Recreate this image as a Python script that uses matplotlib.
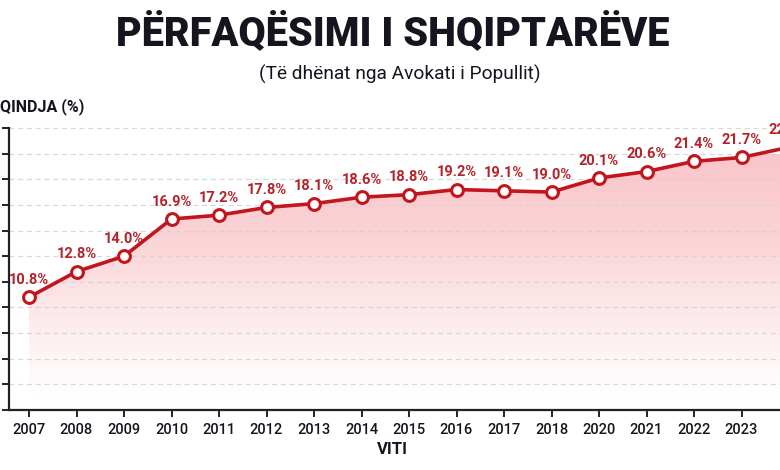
import matplotlib
matplotlib.use("Agg")
import matplotlib.pyplot as plt
import numpy as np
from matplotlib.patches import Polygon
from matplotlib.colors import LinearSegmentedColormap

years = ["2007", "2008", "2009", "2010", "2011", "2012", "2013", "2014", "2015",
         "2016", "2017", "2018", "2020", "2021", "2022", "2023", "2024"]
values = [10.8, 12.8, 14.0, 16.9, 17.2, 17.8, 18.1, 18.6, 18.8,
          19.2, 19.1, 19.0, 20.1, 20.6, 21.4, 21.7, 22.5]
labels = [f"{v:.1f}%" for v in values]
y_ticks = [2, 4, 6, 8, 10, 12, 14, 16, 18, 20, 22, 24]

title = "PËRFAQËSIMI I SHQIPTARËVE"
subtitle = "(Të dhënat nga Avokati i Popullit)"
ylabel = "QINDJA (%)"
xlabel = "VITI"

RED = "#c3151d"
LABEL_RED = "#b3232b"
DARK = "#15151f"
FONT = ["Roboto", "DejaVu Sans"]

W, H = 780, 470
fig = plt.figure(figsize=(W / 100, H / 100), dpi=100)
fig.patch.set_facecolor("white")

# axes: left spine at x=9px, bottom at y=410px, top at y=128px, right at figure edge
ax = fig.add_axes([9 / W, (H - 410) / H, (W - 9) / W, (410 - 128) / H])
x = np.arange(len(years))
step = 47.5
x_left = -(29 - 9) / step
x_right = (W - 29) / step
ax.set_xlim(x_left, x_right)
ax.set_ylim(2, 24)

# gradient fill under line
verts = [(x[0], 2)] + list(zip(x, values)) + [(x[-1], 2)]
poly = Polygon(verts, closed=True, facecolor="none", edgecolor="none")
ax.add_patch(poly)
cmap = LinearSegmentedColormap.from_list("g", ["#ffffff", "#fde9eb", "#fbd3d6", "#f9c6ca"])
grad = np.linspace(0, 1, 256).reshape(-1, 1)
im = ax.imshow(grad, extent=[x[0], x[-1], 3.2, 22.0], origin="lower",
               aspect="auto", cmap=cmap, zorder=1, interpolation="bicubic")
im.set_clip_path(poly)

# grid
for yt in y_ticks:
    ax.axhline(yt, color="#d2d2d2", lw=0.9, ls=(0, (4, 3)), zorder=1.5,
               alpha=0.85, clip_on=False)

ax.plot(x, values, color=RED, lw=2.6, zorder=3, solid_capstyle="round")
ax.plot(x, values, ls="none", marker="o", ms=8.5, mfc="white", mec=RED,
        mew=2.2, zorder=4)

for i, (xi, v, lab) in enumerate(zip(x, values, labels)):
    t = ax.annotate(lab, (xi, v), xytext=(0, 7.5), textcoords="offset points",
                    ha="center", va="bottom", color=LABEL_RED, fontsize=10.5,
                    fontweight="bold", family=FONT, annotation_clip=False,
                    zorder=5)
    t.set_clip_on(False)

for s in ["top", "right"]:
    ax.spines[s].set_visible(False)
for s in ["left", "bottom"]:
    ax.spines[s].set_color("#222222")
    ax.spines[s].set_linewidth(1.6)

ax.set_yticks(y_ticks)
ax.set_yticklabels([])
ax.set_xticks(x[:-1])
ax.set_xticklabels(years[:-1], fontsize=10.5, color=DARK, family=FONT,
                   fontweight="medium")
ax.tick_params(axis="both", length=5, width=1.4, color="#222222")
ax.tick_params(axis="x", pad=4)
ax.set_facecolor("none")

fig.text(393 / W, 1 - 33 / H, title, ha="center", va="center", fontsize=28.5,
         fontweight="black", color=DARK, family=FONT)
fig.text(400 / W, 1 - 74 / H, subtitle, ha="center", va="center",
         fontsize=13.8, color=DARK, family=FONT)
fig.text(0, 1 - 107 / H, ylabel, ha="left", va="center", fontsize=11.5,
         fontweight="bold", color=DARK, family=FONT)
fig.text(392 / W, 1 - 450 / H, xlabel, ha="center", va="center", fontsize=12,
         fontweight="bold", color=DARK, family=FONT)

fig.savefig("out.png", dpi=100)
